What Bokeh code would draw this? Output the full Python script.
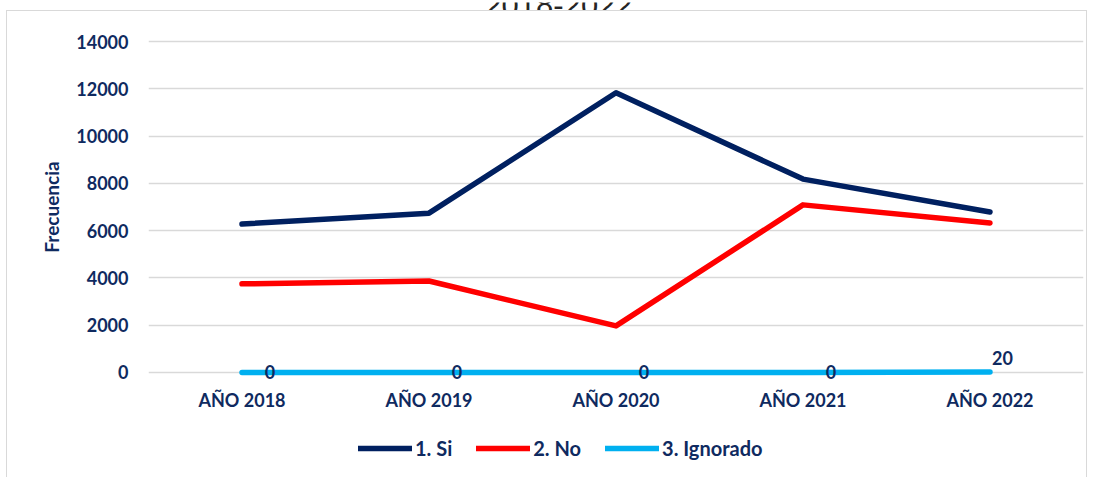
from bokeh.plotting import figure
from bokeh.layouts import column
from bokeh.models import (Range1d, FactorRange, Legend, LegendItem, ColumnDataSource,
                          Label, FixedTicker, InlineStyleSheet)
from bokeh.core.properties import value
from bokeh.embed import file_html
from bokeh.resources import INLINE

# ---- data ----
years = ["AÑO 2018", "AÑO 2019", "AÑO 2020", "AÑO 2021", "AÑO 2022"]
si = [6280, 6740, 11830, 8180, 6790]
no = [3750, 3870, 1970, 7090, 6320]
ignorado = [0, 0, 0, 0, 20]
series_names = ["1. Si", "2. No", "3. Ignorado"]
y_ticks = [0, 2000, 4000, 6000, 8000, 10000, 12000, 14000]
title_text = "2018-2022"

NAVY = "#002060"
RED = "#FF0000"
CYAN = "#00B0F0"
TXT = "#0F2A60"
FONT = "Lato"
GRID = "#D9D9D9"

W = 1088
H_TITLE, H_MAIN, H_LEG = 10, 420, 39

def border_css(top_line):
    side = "border-left: 1.5px solid %s; border-right: 1.5px solid %s;" % (GRID, GRID)
    top = "border-top: 1.5px solid %s;" % GRID if top_line else ""
    return InlineStyleSheet(css=(
        ":host::after { content: ''; position: absolute; left: 6px; top: 0px; "
        "width: 1081px; height: 600px; box-sizing: border-box; pointer-events: none; "
        + side + top + " }"))

# ---------- title strip (title cut at the top edge, as in the reference) ----------
pt = figure(width=W, height=H_TITLE, x_range=Range1d(0, 1), y_range=Range1d(0, 1),
            x_axis_type=None, y_axis_type=None, output_backend="svg", toolbar_location=None,
            min_border=0)
pt.outline_line_color = None
pt.grid.grid_line_color = None
pt.add_layout(Label(x=410, y=8, x_units="screen", y_units="screen", text=title_text,
                    text_align="center", text_baseline="alphabetic",
                    text_font="Liberation Sans", text_font_size="31px", text_color="#262626"))

# ---------- main chart ----------
p = figure(width=W, height=H_MAIN, x_range=FactorRange(factors=years, range_padding=0),
           y_range=Range1d(-423, 14423), output_backend="svg", toolbar_location=None,
           min_border_left=148, min_border_right=W - 1083, min_border_top=21,
           min_border_bottom=48)
p.outline_line_color = None
p.background_fill_color = "white"
p.border_fill_color = "white"
p.stylesheets = [border_css(True)]

p.xgrid.grid_line_color = None
p.ygrid.grid_line_color = GRID
p.ygrid.grid_line_width = 1.5
p.yaxis.ticker = FixedTicker(ticks=y_ticks)

for ax in (p.xaxis[0], p.yaxis[0]):
    ax.axis_line_color = None
    ax.major_tick_line_color = None
    ax.minor_tick_line_color = None
    ax.major_tick_out = 0
    ax.major_tick_in = 0
    ax.major_label_text_font = FONT
    ax.major_label_text_font_style = "bold"
    ax.major_label_text_font_size = "18px"
    ax.major_label_text_color = TXT

p.xaxis.major_label_standoff = 6
p.yaxis.major_label_standoff = 20
p.yaxis.axis_label = "Frecuencia"
p.yaxis.axis_label_text_font = FONT
p.yaxis.axis_label_text_font_style = "bold"
p.yaxis.axis_label_text_font_size = "19px"
p.yaxis.axis_label_text_color = TXT
p.yaxis.axis_label_standoff = 10

line_style = dict(line_width=5.5, line_cap="round", line_join="round")
p.line(years, si, line_color=NAVY, **line_style)
p.line(years, no, line_color=RED, **line_style)
p.line(years, ignorado, line_color=CYAN, **line_style)

# data labels of Ignorado
src_a = ColumnDataSource(dict(x=years[:-1], y=ignorado[:-1], t=[str(v) for v in ignorado[:-1]]))
src_b = ColumnDataSource(dict(x=years[-1:], y=ignorado[-1:], t=[str(v) for v in ignorado[-1:]]))
p.text(x="x", y="y", text="t", source=src_a, x_offset=28, text_align="center",
       text_baseline="middle", text_font=value(FONT), text_font_style="bold",
       text_font_size="18px", text_color=TXT)
p.text(x="x", y="y", text="t", source=src_b, x_offset=2, y_offset=-14, text_align="left",
       text_baseline="middle", text_font=value(FONT), text_font_style="bold",
       text_font_size="18px", text_color=TXT)

# ---------- legend strip ----------
# the series are re-plotted here only so that the legend can draw its samples;
# all values (>= 0) lie above this strip's -2..-1 y-range, so nothing shows.
pl = figure(width=W, height=H_LEG, x_range=Range1d(0, 1), y_range=Range1d(-2, -1),
            x_axis_type=None, y_axis_type=None, output_backend="svg", toolbar_location=None,
            min_border=0)
pl.outline_line_color = None
pl.grid.grid_line_color = None
pl.stylesheets = [border_css(False)]
idx = list(range(len(years)))
l_si = pl.line(x=idx, y=si, line_color=NAVY, **line_style)
l_no = pl.line(x=idx, y=no, line_color=RED, **line_style)
l_ig = pl.line(x=idx, y=ignorado, line_color=CYAN, **line_style)
legend = Legend(items=[LegendItem(label=series_names[0], renderers=[l_si]),
                       LegendItem(label=series_names[1], renderers=[l_no]),
                       LegendItem(label=series_names[2], renderers=[l_ig])],
                orientation="horizontal", location=(210, 9), padding=0, margin=0,
                spacing=24, glyph_width=54, glyph_height=20, label_standoff=3,
                border_line_color=None, background_fill_alpha=0,
                label_text_font=FONT, label_text_font_style="bold",
                label_text_font_size="20px", label_text_color=TXT)
pl.add_layout(legend, "center")

layout = column(pt, p, pl, spacing=0)
open("out.html", "w").write(file_html(layout, INLINE))
